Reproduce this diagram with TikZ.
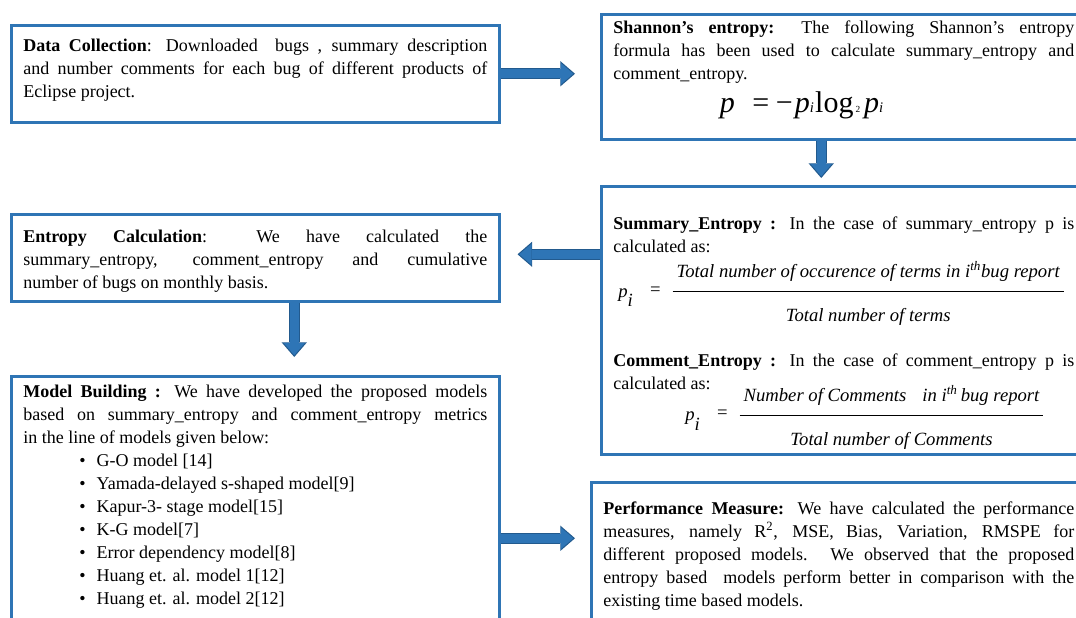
\documentclass[tikz,border=0pt]{standalone}
\usepackage{fontspec}
\setmainfont{Liberation Serif}
\usetikzlibrary{arrows.meta}
\definecolor{boxblue}{RGB}{47,117,181}
\definecolor{arrowblue}{RGB}{46,117,182}
\definecolor{arrowdark}{RGB}{34,90,142}
\begin{document}
\begin{tikzpicture}[x=0.75pt, y=-0.75pt,
    box/.style={draw=boxblue, line width=1.9pt, fill=white, anchor=north west,
        inner xsep=9pt, inner ysep=4pt, font=\fontsize{13.5}{17.25}\selectfont},
    frac/.style={inner sep=0pt, anchor=west, font=\fontsize{14}{17.25}\selectfont},
    bigarrow/.style={draw=arrowdark, line width=8.5pt, shorten >=#1,
        -{Triangle[length=11pt,width=19pt,line width=0pt]},
        postaction={draw=arrowblue, line width=6.7pt, shorten >=#1+1.3pt,
            -{Triangle[length=9.3pt,width=16pt,line width=0pt]}}}
]
\useasboundingbox (0,0) rectangle (1076,618);
\clip (0,0) rectangle (1076,618);

% Data collection
\node[box] (dc) at (10,24) {\begin{minipage}[t][64.75pt][t]{348pt}\vspace*{6pt}
\textbf{Data Collection}: Downloaded\ \ bugs , summary description\linebreak
and number comments for each bug of different products of\linebreak
Eclipse project.\end{minipage}};

% Shannon's entropy
\node[box] (sh) at (600,13) {\begin{minipage}[t][85.75pt][t]{345.75pt}\vspace*{1pt}
\textbf{Shannon’s entropy:} The following Shannon’s entropy\linebreak
formula has been used to calculate summary\_entropy and\linebreak
comment\_entropy.\par\vspace{-2pt}
{\fontsize{22.5}{27}\selectfont\hspace*{80pt}\textit{p}\hspace{13pt}=\hspace{5pt}−\hspace{1.5pt}\textit{p}{\fontsize{11}{11}\selectfont\textit{i}}\hspace{1pt}log\hspace{1.5pt}{\fontsize{7}{7}\selectfont 2}\hspace{3pt}\textit{p}{\fontsize{11}{11}\selectfont\textit{i}}\par}
\end{minipage}};

% Summary and comment entropy
\node[box] (se) at (600,185) {\begin{minipage}[t][193pt][t]{345.75pt}\vspace*{19pt}
\textbf{Summary\_Entropy :} In the case of summary\_entropy p is\linebreak
calculated as:\par\vspace{68.25pt}
\textbf{Comment\_Entropy :} In the case of comment\_entropy p is\linebreak
calculated as:\end{minipage}};

\node[frac] (fsum) at (618,295) {\setlength{\tabcolsep}{3pt}\setlength{\arrayrulewidth}{1.1pt}%
\raisebox{2pt}{\textit{p}}\raisebox{-5pt}{\textit{i}}\hspace{13pt}\raisebox{3.5pt}{=}\hspace{9pt}%
\begin{tabular}{c}\itshape Total number of occurence of terms in i\textsuperscript{th}bug report\\[5pt]\hline
\rule{0pt}{22pt}\itshape Total number of terms\end{tabular}};

\node[frac] (fcom) at (685,418.6) {\setlength{\tabcolsep}{3pt}\setlength{\arrayrulewidth}{1.1pt}%
\raisebox{2pt}{\textit{p}}\raisebox{-5pt}{\textit{i}}\hspace{13pt}\raisebox{3.5pt}{=}\hspace{9pt}%
\begin{tabular}{c}\itshape Number of Comments\hspace{12pt}in i\textsuperscript{th}\,bug report\\[5pt]\hline
\rule{0pt}{22pt}\itshape Total number of Comments\end{tabular}};

% Entropy calculation
\node[box] (ec) at (10,213) {\begin{minipage}[t][57.25pt][t]{348pt}\vspace*{7.7pt}
\textbf{Entropy Calculation}: We have calculated the\linebreak
summary\_entropy, comment\_entropy and cumulative\linebreak
number of bugs on monthly basis.\end{minipage}};

% Model building
\node[box] (mb) at (10,375) {\begin{minipage}[t][187pt][t]{348pt}\vspace*{2.4pt}
\textbf{Model Building :} We have developed the proposed models\linebreak
based on summary\_entropy and comment\_entropy metrics\linebreak
in the line of models given below:\\
\hspace*{42pt}\makebox[13pt][l]{\textbullet}G-O model [14]\\
\hspace*{42pt}\makebox[13pt][l]{\textbullet}Yamada-delayed s-shaped model[9]\\
\hspace*{42pt}\makebox[13pt][l]{\textbullet}Kapur-3- stage model[15]\\
\hspace*{42pt}\makebox[13pt][l]{\textbullet}K-G model[7]\\
\hspace*{42pt}\makebox[13pt][l]{\textbullet}Error dependency model[8]\\
\hspace*{42pt}\makebox[13pt][l]{\textbullet}Huang et. al. model 1[12]\\
\hspace*{42pt}\makebox[13pt][l]{\textbullet}Huang et. al. model 2[12]\end{minipage}};

% Performance measure
\node[box] (pm) at (590,481) {\begin{minipage}[t][112pt][t]{353.25pt}\vspace*{10.6pt}
\textbf{Performance Measure:} We have calculated the performance\linebreak
measures, namely R\textsuperscript{2}, MSE, Bias, Variation, RMSPE for\linebreak
different proposed models. We observed that the proposed\linebreak
entropy based\ \ models perform better in comparison with the\linebreak
existing time based models.\end{minipage}};

% Block arrows
\coordinate (shdown) at ([xshift=-16.9pt]sh.south);
\coordinate (ecin) at ([yshift=2.6pt]ec.east);
\coordinate (ecdown) at ([xshift=29.25pt]ec.south);
\coordinate (mbout) at ([yshift=-24pt]mb.east);
\draw[bigarrow=18.75pt] (dc.east) -- (dc.east -| sh.west);
\draw[bigarrow=5.25pt] (shdown) -- (shdown |- se.north);
\draw[bigarrow=12.75pt] (se.west |- ecin) -- (ecin);
\draw[bigarrow=13.5pt] (ecdown) -- (ecdown |- mb.north);
\draw[bigarrow=11.25pt] (mbout) -- (mbout -| pm.west);

\end{tikzpicture}
\end{document}
